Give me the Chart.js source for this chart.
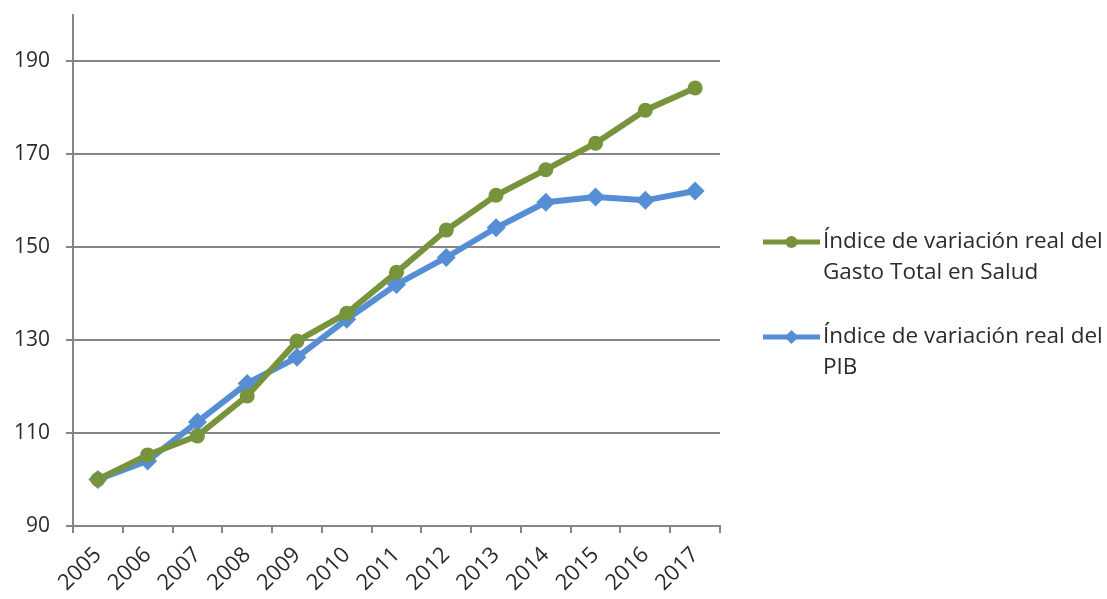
<!DOCTYPE html>
<html>
<head>
<meta charset="utf-8">
<script src="https://cdn.jsdelivr.net/npm/chart.js@4.4.1/dist/chart.umd.min.js"></script>
<style>
  html, body { margin: 0; padding: 0; background: #fff; }
  #wrap { width: 1107px; height: 599px; }
</style>
</head>
<body>
<div id="wrap"><canvas id="chart" width="1107" height="599"></canvas></div>
<script>
const years = ['2005', '2006', '2007', '2008', '2009', '2010', '2011', '2012', '2013', '2014', '2015', '2016', '2017'];
const gastoSalud = [100, 105.3, 109.4, 118.0, 129.8, 135.8, 144.6, 153.7, 161.2, 166.7, 172.4, 179.5, 184.3];
const pib = [100, 104.0, 112.4, 120.7, 126.3, 134.5, 142.0, 147.8, 154.2, 159.7, 160.8, 160.1, 162.1];
const yTicks = [90, 110, 130, 150, 170, 190];

const green = '#77933C';
const blue = '#558ED5';
const gridGray = '#868686';
const textColor = '#2b2b2b';
const fontFamily = '"Open Sans", "Noto Sans", sans-serif';

// leyenda a la derecha con texto en varias líneas
const sideLegend = {
    id: 'sideLegend',
    afterDraw(chart) {
        const ctx = chart.ctx;
        const x0 = 763, lineLen = 57, textX = 823, maxW = 284;
        const tops = [242, 337];
        ctx.save();
        ctx.font = '22.5px ' + fontFamily;
        ctx.textBaseline = 'middle';
        chart.data.datasets.forEach(function (ds, i) {
            const y = tops[i];
            ctx.strokeStyle = ds.borderColor;
            ctx.lineWidth = 5;
            ctx.beginPath();
            ctx.moveTo(x0, y);
            ctx.lineTo(x0 + lineLen, y);
            ctx.stroke();
            ctx.fillStyle = ds.borderColor;
            const cx = x0 + lineLen / 2;
            ctx.beginPath();
            if (ds.pointStyle === 'circle') {
                ctx.arc(cx, y, 6, 0, Math.PI * 2);
            } else {
                ctx.moveTo(cx, y - 7);
                ctx.lineTo(cx + 7, y);
                ctx.lineTo(cx, y + 7);
                ctx.lineTo(cx - 7, y);
                ctx.closePath();
            }
            ctx.fill();

            // partir el texto en líneas
            const words = ds.label.split(' ');
            const lines = [];
            let cur = '';
            words.forEach(function (w) {
                const test = cur ? cur + ' ' + w : w;
                if (ctx.measureText(test).width > maxW && cur) {
                    lines.push(cur);
                    cur = w;
                } else {
                    cur = test;
                }
            });
            if (cur) lines.push(cur);
            ctx.fillStyle = textColor;
            lines.forEach(function (l, j) {
                ctx.fillText(l, textX, y + j * 31);
            });
        });
        ctx.restore();
    }
};

const ctx = document.getElementById('chart').getContext('2d');
new Chart(ctx, {
    type: 'line',
    data: {
        labels: years,
        datasets: [{
            label: 'Índice de variación real del Gasto Total en Salud',
            data: gastoSalud,
            borderColor: green,
            backgroundColor: green,
            borderWidth: 6,
            pointStyle: 'circle',
            pointRadius: 7.5,
            pointBorderWidth: 0,
            tension: 0
        }, {
            label: 'Índice de variación real del PIB',
            data: pib,
            borderColor: blue,
            backgroundColor: blue,
            borderWidth: 6,
            pointStyle: 'rectRot',
            pointRadius: 9.5,
            pointBorderWidth: 0,
            tension: 0
        }]
    },
    options: {
        responsive: false,
        animation: false,
        devicePixelRatio: 1,
        layout: { padding: { top: 15, right: 387, left: 0, bottom: 0 } },
        plugins: {
            legend: { display: false },
            tooltip: { enabled: false }
        },
        scales: {
            x: {
                offset: true,
                grid: {
                    offset: true,
                    drawOnChartArea: false,
                    drawTicks: true,
                    tickLength: 7,
                    color: gridGray,
                    lineWidth: 2
                },
                border: { color: gridGray, width: 2 },
                ticks: {
                    autoSkip: false,
                    minRotation: 45,
                    maxRotation: 45,
                    color: textColor,
                    font: { family: fontFamily, size: 22 },
                    padding: 9
                },
                afterFit: function (scale) {
                    scale.height = 73;
                    scale.paddingLeft = 0;
                    scale.paddingRight = 0;
                }
            },
            y: {
                min: 90,
                max: 200,
                afterBuildTicks: function (scale) {
                    scale.ticks = yTicks.map(function (v) { return { value: v }; });
                },
                grid: {
                    color: gridGray,
                    lineWidth: 2,
                    tickLength: 7
                },
                border: { color: gridGray, width: 2 },
                ticks: {
                    color: textColor,
                    font: { family: fontFamily, size: 21 },
                    padding: 16
                },
                afterFit: function (scale) {
                    scale.width = 73;
                    scale.paddingTop = 0;
                    scale.paddingBottom = 0;
                }
            }
        }
    },
    plugins: [sideLegend]
});
</script>
</body>
</html>
